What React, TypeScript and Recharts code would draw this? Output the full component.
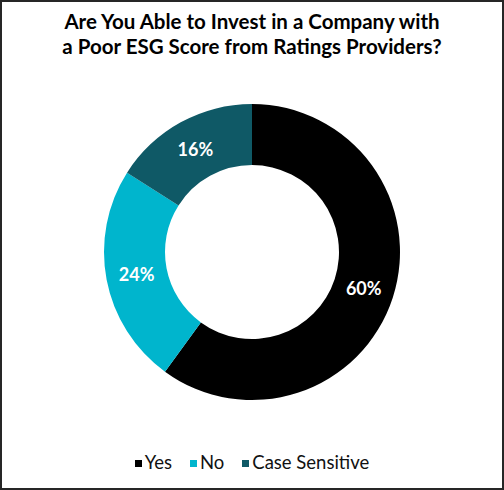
import { Pie, PieChart, Cell, Legend } from "recharts";

const categories = ["Yes", "No", "Case Sensitive"];
const shares = [60, 24, 16];
const colors = ["#000000", "#00b5cd", "#0f5966"];
const titleLines = [
  "Are You Able to Invest in a Company with",
  "a Poor ESG Score from Ratings Providers?",
];

const data = categories.map((name, i) => ({ name, value: shares[i] }));

const RAD = Math.PI / 180;

function renderLabel(props: any) {
  const { cx, cy, midAngle, innerRadius, outerRadius, value } = props;
  const r = (innerRadius + outerRadius) / 2;
  const x = cx + r * Math.cos(-midAngle * RAD);
  const y = cy + r * Math.sin(-midAngle * RAD);
  return (
    <text
      x={x}
      y={y}
      fill="#ffffff"
      textAnchor="middle"
      dominantBaseline="central"
      fontSize={18}
      fontWeight={700}
      fontFamily="Lato, sans-serif"
    >
      {`${value}%`}
    </text>
  );
}

function LegendRow() {
  return (
    <div
      style={{
        display: "flex",
        justifyContent: "center",
        gap: 18,
        fontFamily: "Lato, sans-serif",
        fontSize: 18.5,
        color: "#111",
      }}
    >
      {categories.map((c, i) => (
        <span key={c} style={{ display: "flex", alignItems: "center" }}>
          <span
            style={{
              display: "inline-block",
              width: 7,
              height: 7,
              background: colors[i],
              marginRight: 3,
              marginTop: 3,
            }}
          />
          {c}
        </span>
      ))}
    </div>
  );
}

export default function App() {
  return (
    <div
      style={{
        position: "relative",
        width: 504,
        height: 490,
        boxSizing: "border-box",
        border: "2px solid #262626",
        background: "#fff",
        fontFamily: "Lato, sans-serif",
      }}
    >
      <style>{"body{margin:0}"}</style>
      <div
        style={{
          position: "absolute",
          top: 7,
          left: 0,
          width: 500,
          textAlign: "center",
          fontSize: 20.5,
          fontWeight: 700,
          color: "#000",
        }}
      >
        {titleLines.map((t) => (
          <div key={t} style={{ lineHeight: "25px", height: 25 }}>
            {t}
          </div>
        ))}
      </div>
      <div style={{ position: "absolute", top: -2, left: -2 }}>
        <PieChart
          width={504}
          height={490}
          margin={{ top: 0, right: 0, bottom: 0, left: 0 }}
        >
          <Pie
            data={data}
            dataKey="value"
            nameKey="name"
            cx={252}
            cy={252}
            innerRadius={87}
            outerRadius={148}
            startAngle={90}
            endAngle={-270}
            stroke="none"
            label={renderLabel}
            labelLine={false}
            isAnimationActive={false}
          >
            {data.map((d, i) => (
              <Cell key={d.name} fill={colors[i]} />
            ))}
          </Pie>
          <Legend
            verticalAlign="bottom"
            content={() => <LegendRow />}
            wrapperStyle={{ bottom: 17 }}
          />
        </PieChart>
      </div>
    </div>
  );
}
